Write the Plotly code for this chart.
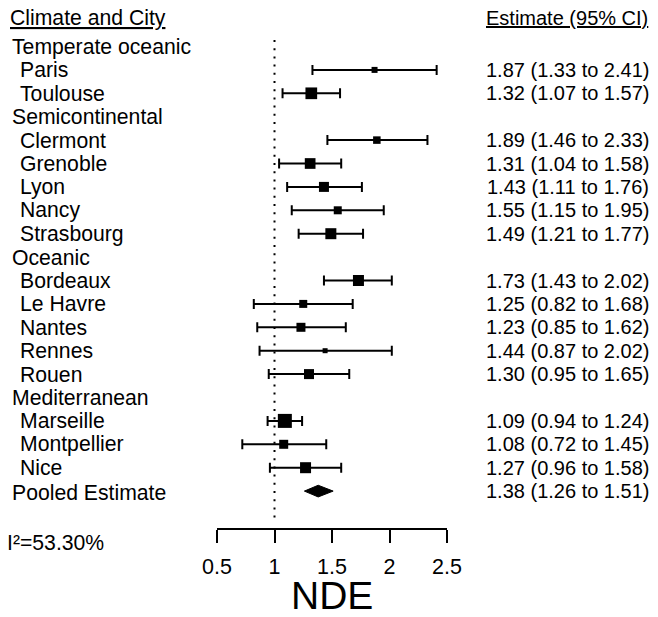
import plotly.graph_objects as go

# ---------------- data ----------------
climates = ["Temperate oceanic", "Semicontinental", "Oceanic", "Mediterranean"]
cities = ["Paris", "Toulouse", "Clermont", "Grenoble", "Lyon", "Nancy", "Strasbourg",
          "Bordeaux", "Le Havre", "Nantes", "Rennes", "Rouen",
          "Marseille", "Montpellier", "Nice"]
city_climate = ["Temperate oceanic", "Temperate oceanic",
                "Semicontinental", "Semicontinental", "Semicontinental", "Semicontinental", "Semicontinental",
                "Oceanic", "Oceanic", "Oceanic", "Oceanic", "Oceanic",
                "Mediterranean", "Mediterranean", "Mediterranean"]
estimate = [1.87, 1.32, 1.89, 1.31, 1.43, 1.55, 1.49, 1.73, 1.25, 1.23, 1.44, 1.30, 1.09, 1.08, 1.27]
lower = [1.33, 1.07, 1.46, 1.04, 1.11, 1.15, 1.21, 1.43, 0.82, 0.85, 0.87, 0.95, 0.94, 0.72, 0.96]
upper = [2.41, 1.57, 2.33, 1.58, 1.76, 1.95, 1.77, 2.02, 1.68, 1.62, 2.02, 1.65, 1.24, 1.45, 1.58]
box_size = [6, 11.7, 7.5, 10.7, 10, 8, 11, 11, 8, 9, 5, 10, 14, 9, 11]  # relative weights (px)
pooled_est, pooled_lo, pooled_hi = 1.38, 1.26, 1.51
i2_text = "I²=53.30%"
tick_vals = [0.5, 1, 1.5, 2, 2.5]
tick_text = ["0.5", "1", "1.5", "2", "2.5"]
x_label = "NDE"
left_header = "Climate and City"
right_header = "Estimate (95% CI)"
pooled_label = "Pooled Estimate"

# ---------------- layout constants ----------------
OFF = 8                      # page body margin of the browser
W, H = 658 - 2 * OFF, 617 - 2 * OFF
AX_L, AX_R, AX_Y = 217, 447, 528   # reference pixel positions of axis ends / axis line
ML = AX_L - OFF
MR = W - (AX_R - OFF)
MT = 0
MB = H - (AX_Y - OFF)
PLOT_H = H - MT - MB
ROW0_PX, ROW_PX = 46.5, 23.4       # reference pixel y of first row, row spacing
FONT = "Liberation Sans, Arial, Helvetica, sans-serif"
FS_L = 21.2
FS_R = 20.0
RIGHT_EDGE = 651


def xpaper(px):  # px in reference coordinates
    return (px - OFF - ML) / (W - ML - MR)


def ypaper(py):
    return (H - MB - (py - OFF)) / PLOT_H


def yrow(py):
    return (py - ROW0_PX) / ROW_PX


# build rows
rows = []  # (label, is_group, city_index)
for c in climates:
    rows.append((c, True, None))
    for i, cc in enumerate(city_climate):
        if cc == c:
            rows.append((cities[i], False, i))
pooled_row = len(rows)

city_row = {}
for r, (lab, g, idx) in enumerate(rows):
    if idx is not None:
        city_row[idx] = r

ys = [city_row[i] for i in range(len(cities))]

fig = go.Figure()
fig.add_trace(go.Scatter(
    x=estimate, y=ys, mode="markers",
    marker=dict(symbol="square", size=box_size, color="black", opacity=1, line=dict(width=0)),
    error_x=dict(type="data", symmetric=False,
                 array=[u - e for u, e in zip(upper, estimate)],
                 arrayminus=[e - l for e, l in zip(estimate, lower)],
                 color="black", thickness=2, width=5),
    hoverinfo="skip", showlegend=False, cliponaxis=False,
))

# pooled diamond
dh = 0.25
fig.add_trace(go.Scatter(
    x=[pooled_lo, pooled_est, pooled_hi, pooled_est, pooled_lo],
    y=[pooled_row, pooled_row - dh, pooled_row, pooled_row + dh, pooled_row],
    mode="lines", fill="toself", fillcolor="black",
    line=dict(color="black", width=1), hoverinfo="skip", showlegend=False,
))

# reference line at 1
fig.add_shape(type="line", xref="x", yref="y", x0=1, x1=1,
              y0=yrow(40), y1=yrow(520),
              line=dict(color="black", width=2, dash="2px,6.2px"))

ann = []
lfont = dict(family=FONT, size=FS_L, color="black")
rfont = dict(family=FONT, size=FS_R, color="black")
# headers
ann.append(dict(text="<u>" + left_header + "</u>", x=xpaper(8), y=yrow(17.5), xref="paper", yref="y",
                xanchor="left", yanchor="middle", showarrow=False, font=lfont))
ann.append(dict(text="<u>" + right_header + "</u>", x=xpaper(RIGHT_EDGE - 1), y=yrow(17.5),
                xref="paper", yref="y",
                xanchor="right", yanchor="middle", showarrow=False, font=rfont))
for r, (lab, g, idx) in enumerate(rows):
    ann.append(dict(text=lab, x=xpaper(10 if g else 18), y=r, xref="paper", yref="y",
                    xanchor="left", yanchor="middle", showarrow=False, font=lfont))
    if idx is not None:
        s = f"{estimate[idx]:.2f} ({lower[idx]:.2f} to {upper[idx]:.2f})"
        ann.append(dict(text=s, x=xpaper(RIGHT_EDGE), y=r, xref="paper", yref="y",
                        xanchor="right", yanchor="middle", showarrow=False, font=rfont))
ann.append(dict(text=pooled_label, x=xpaper(10), y=pooled_row + 0.05, xref="paper", yref="y",
                xanchor="left", yanchor="middle", showarrow=False, font=lfont))
ann.append(dict(text=f"{pooled_est:.2f} ({pooled_lo:.2f} to {pooled_hi:.2f})", x=xpaper(RIGHT_EDGE),
                y=pooled_row, xref="paper", yref="y",
                xanchor="right", yanchor="middle", showarrow=False, font=rfont))
ann.append(dict(text=i2_text, x=xpaper(5), y=ypaper(542), xref="paper", yref="paper",
                xanchor="left", yanchor="middle", showarrow=False, font=lfont))
ann.append(dict(text=x_label, x=xpaper(332), y=ypaper(595), xref="paper", yref="paper",
                xanchor="center", yanchor="middle", showarrow=False,
                font=dict(family=FONT, size=39, color="black")))

fig.update_layout(
    width=W, height=H,
    margin=dict(l=ML, r=MR, t=MT, b=MB, pad=0, autoexpand=False),
    paper_bgcolor="white", plot_bgcolor="white",
    showlegend=False,
    annotations=ann,
    xaxis=dict(range=[0.5, 2.5], tickvals=tick_vals, ticktext=tick_text,
               showline=True, linecolor="black", linewidth=2,
               ticks="outside", ticklen=13, tickwidth=2, tickcolor="black",
               showgrid=False, zeroline=False,
               tickfont=dict(family=FONT, size=21.5, color="black"),
               ticklabelstandoff=5),
    yaxis=dict(range=[yrow(AX_Y), yrow(OFF)],
               visible=False, showgrid=False, zeroline=False),
)

fig.write_html("out.html")
